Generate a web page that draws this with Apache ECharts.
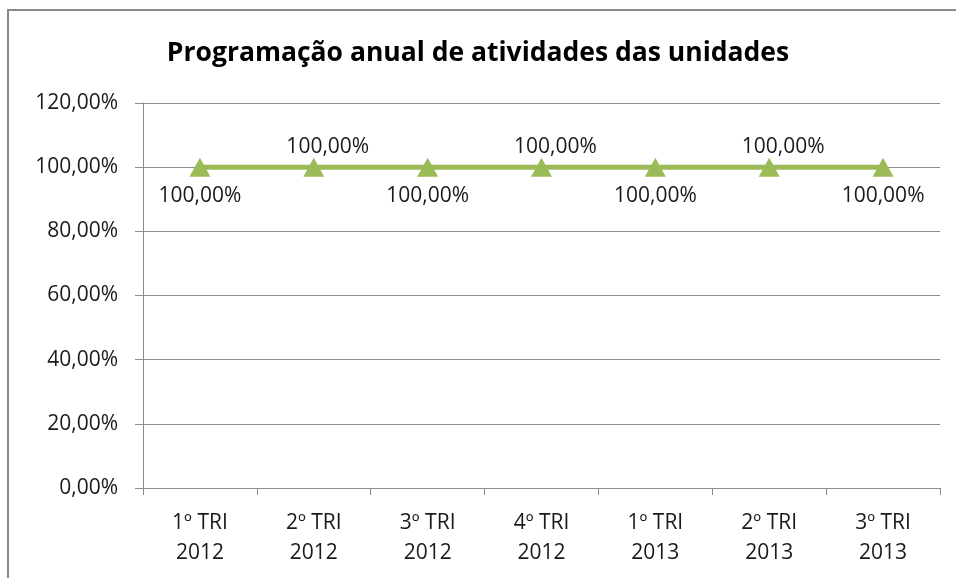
<!DOCTYPE html>
<html>
<head>
<meta charset="utf-8">
<script src="https://cdn.jsdelivr.net/npm/echarts@6/dist/echarts.min.js"></script>
<style>
html,body{margin:0;padding:0;background:#fff;}
#main{width:956px;height:578px;}
</style>
</head>
<body>
<div id="main"></div>
<script>
// dados
var categorias = ['1º TRI\n2012','2º TRI\n2012','3º TRI\n2012','4º TRI\n2012','1º TRI\n2013','2º TRI\n2013','3º TRI\n2013'];
var valores = [100, 100, 100, 100, 100, 100, 100];

var fonte = '"Open Sans", sans-serif';

function fmt(v){
  return v.toFixed(2).replace('.', ',') + '%';
}

// rótulos alternados: abaixo / acima
var pontos = valores.map(function(v, i){
  var acima = i % 2 === 1;
  return {
    value: v,
    label: acima ? { position: 'top', distance: 0, offset: [14, 0] }
                 : { position: 'bottom', distance: 9 }
  };
});

var chart = echarts.init(document.getElementById('main'));
chart.setOption({
  animation: false,
  title: {
    text: 'Programação anual de atividades das unidades',
    left: 'center',
    top: 35,
    textStyle: { fontFamily: fonte, fontSize: 26.5, fontWeight: 'bold', color: '#000' }
  },
  graphic: [{
    type: 'rect',
    shape: { x: 8, y: 10, width: 960, height: 600 },
    style: { fill: 'none', stroke: '#8a8a8a', lineWidth: 2 },
    silent: true
  }],
  grid: { left: 143, right: 16, top: 103, bottom: 90 },
  xAxis: {
    type: 'category',
    data: categorias,
    boundaryGap: true,
    axisLine: { lineStyle: { color: '#8c8c8c', width: 1 } },
    axisTick: { show: true, length: 7, lineStyle: { color: '#8c8c8c' } },
    axisLabel: { fontFamily: fonte, fontSize: 21, color: '#1a1a1a', lineHeight: 30, margin: 20 }
  },
  yAxis: {
    type: 'value',
    min: 0,
    max: 120,
    interval: 20,
    axisLine: { show: true, lineStyle: { color: '#8c8c8c' } },
    axisTick: { show: true, length: 8, lineStyle: { color: '#8c8c8c' } },
    splitLine: { lineStyle: { color: '#8c8c8c', width: 1 } },
    axisLabel: { fontFamily: fonte, fontSize: 21, color: '#1a1a1a', margin: 25, formatter: fmt }
  },
  series: [{
    type: 'line',
    data: pontos,
    symbol: 'triangle',
    symbolSize: [21, 19],
    itemStyle: { color: '#9bbb59' },
    lineStyle: { color: '#9bbb59', width: 5 },
    label: {
      show: true,
      fontFamily: fonte,
      fontSize: 21,
      color: '#1a1a1a',
      formatter: function(p){ return fmt(p.value); }
    }
  }]
});
</script>
</body>
</html>
